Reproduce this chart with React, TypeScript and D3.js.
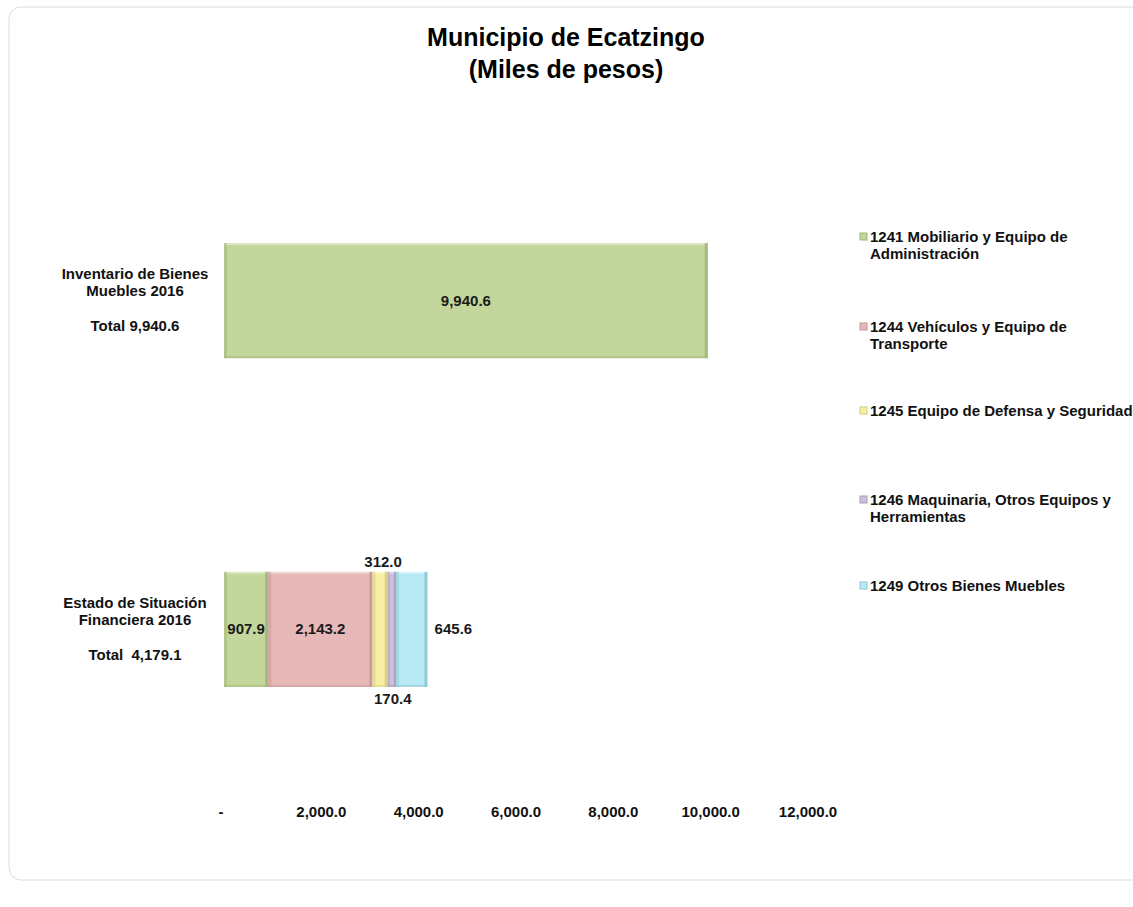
import React from "react";
import * as d3 from "d3";

const categories = ["Inventario de Bienes Muebles 2016", "Estado de Situación Financiera 2016"];
const categoryLines = [
  ["Inventario de Bienes", "Muebles 2016"],
  ["Estado de Situación", "Financiera 2016"],
];
const totals = ["Total 9,940.6", "Total\u00a0 4,179.1"];
const seriesNames = [
  ["1241 Mobiliario y Equipo de", "Administración"],
  ["1244 Vehículos y Equipo de", "Transporte"],
  ["1245 Equipo de Defensa y Seguridad"],
  ["1246 Maquinaria, Otros Equipos y", "Herramientas"],
  ["1249 Otros Bienes Muebles"],
];
const inventarioValues = [9940.6, 0, 0, 0, 0];
const estadoValues = [907.9, 2143.2, 312.0, 170.4, 645.6];
const colors = ["#c3d69b", "#e6b9b8", "#f7f0a4", "#ccc0da", "#b7e9f5"];
const edgeColors = ["#9fb577", "#c49594", "#d3cb7e", "#a99cb9", "#8fc6d3"];
const ticks = [0, 2000, 4000, 6000, 8000, 10000, 12000];

const fmt = d3.format(",.1f");

export default function App() {
  const x = d3.scaleLinear().domain([0, 12000]).range([224, 808]);
  const y = d3.scaleBand().domain(categories).range([128, 802]).paddingInner(0.65).paddingOuter(0.35);
  const data = [inventarioValues, estadoValues];
  const bh = y.bandwidth();

  // where each segment's value label goes
  const labelPos = (ci: number, si: number, x0: number, x1: number, yt: number) => {
    const cx = (x0 + x1) / 2;
    const cy = yt + bh / 2;
    if (ci === 1 && si === 2) return { x: cx + 3, y: yt - 5 };
    if (ci === 1 && si === 3) return { x: cx + 1, y: yt + bh + 17 };
    if (ci === 1 && si === 4) return { x: x1 + 26, y: cy + 5 };
    return { x: cx, y: cy + 5 };
  };

  const legendY = [242, 332, 416, 505, 591];

  return (
    <svg width={1133} height={907} style={{ position: "absolute", left: 0, top: 0, background: "#fff" }}
      fontFamily="'Liberation Sans', Arial, sans-serif">
      <rect x={9} y={7} width={1160} height={873} rx={12} fill="#fff" stroke="#dcdcdc" strokeWidth={1} />
      <text x={566} y={46} textAnchor="middle" fontWeight="bold" fontSize={25} fill="#000">Municipio de Ecatzingo</text>
      <text x={566} y={78} textAnchor="middle" fontWeight="bold" fontSize={25} fill="#000">(Miles de pesos)</text>

      {data.map((vals, ci) => {
        const yt = y(categories[ci])!;
        let acc = 0;
        return (
          <g key={ci}>
            {vals.map((v, si) => {
              if (v <= 0) return null;
              const x0 = x(acc);
              acc += v;
              const x1 = x(acc);
              const w = x1 - x0;
              const e = Math.min(3, w / 4);
              const lp = labelPos(ci, si, x0, x1, yt);
              return (
                <g key={si}>
                  <rect x={x0} y={yt} width={w} height={bh} fill={colors[si]} />
                  <rect x={x0} y={yt} width={w} height={2} fill="#ffffff" opacity={0.4} />
                  <rect x={x0} y={yt + bh - 2} width={w} height={2} fill={edgeColors[si]} opacity={0.5} />
                  <rect x={x0} y={yt} width={e} height={bh} fill={edgeColors[si]} opacity={0.5} />
                  <rect x={x1 - e} y={yt} width={e} height={bh} fill={edgeColors[si]} opacity={0.85} />
                  <text x={lp.x} y={lp.y} textAnchor="middle" fontWeight="bold" fontSize={15} fill="#1a1a1a">{fmt(v)}</text>
                </g>
              );
            })}
            <text textAnchor="middle" fontWeight="bold" fontSize={15} fill="#111">
              {categoryLines[ci].map((l, k) => (
                <tspan key={k} x={135} y={yt + 36 + k * 17}>{l}</tspan>
              ))}
              <tspan x={135} y={yt + 88}>{totals[ci]}</tspan>
            </text>
          </g>
        );
      })}

      {ticks.map((t) => (
        <text key={t} x={x(t) + (t === 0 ? -3 : 0)} y={817} textAnchor="middle" fontWeight="bold" fontSize={15} fill="#111">
          {t === 0 ? "-" : fmt(t)}
        </text>
      ))}

      {seriesNames.map((lines, si) => (
        <g key={si}>
          <rect x={860} y={legendY[si] - 9} width={7} height={7} fill={colors[si]} stroke={edgeColors[si]} strokeWidth={1} />
          <text fontWeight="bold" fontSize={15} fill="#111">
            {lines.map((l, k) => (
              <tspan key={k} x={870} y={legendY[si] + k * 17}>{l}</tspan>
            ))}
          </text>
        </g>
      ))}
    </svg>
  );
}
